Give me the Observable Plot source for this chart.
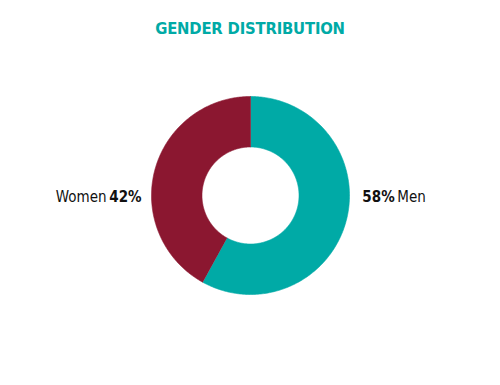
<!DOCTYPE html>
<html><head><meta charset="utf-8">
<script src="https://cdn.jsdelivr.net/npm/d3@7"></script>
<script src="https://cdn.jsdelivr.net/npm/@observablehq/plot@0.6"></script>
<style>
html,body{margin:0;padding:0;background:#fff;width:500px;height:385px;overflow:hidden;}
body{font-family:"Liberation Sans Narrow","DejaVu Sans Condensed","Roboto",sans-serif;}
#title{height:50px;box-sizing:border-box;padding-top:19px;text-align:center;color:#00aaa6;font-weight:bold;font-size:16.5px;line-height:20px;letter-spacing:-0.2px;}
</style></head>
<body>
<div id="title">GENDER DISTRIBUTION</div>
<div id="chart"></div>
<script>
const categories = ["Men", "Women"];
const shares = [58, 42];
const colors = ["#00aaa6", "#8b1730"];
const pctLabels = ["58%", "42%"];

const inner = 0.49;
const data = categories.map((c, i) => ({gender: c, value: shares[i], pct: pctLabels[i]}));
const pie = d3.pie().sort(null).value(d => d.value)(data);

// build slice outlines from the pie angles
const outline = [];
for (const p of pie) {
  const n = 240;
  for (let k = 0; k <= n; k++) {
    const a = p.startAngle + (p.endAngle - p.startAngle) * k / n;
    outline.push({gender: p.data.gender, x: Math.sin(a), y: Math.cos(a)});
  }
  for (let k = n; k >= 0; k--) {
    const a = p.startAngle + (p.endAngle - p.startAngle) * k / n;
    outline.push({gender: p.data.gender, x: inner * Math.sin(a), y: inner * Math.cos(a)});
  }
}
// labels: right side for slice whose midpoint is on the right
const labels = pie.map(p => {
  const mid = (p.startAngle + p.endAngle) / 2;
  const right = Math.sin(mid) >= 0;
  return {gender: p.data.gender, pct: p.data.pct, side: right ? 1 : -1};
});

const W = 500, H = 335;
const R = 99;
const fontFam = '"Liberation Sans Narrow","DejaVu Sans Condensed",Roboto,sans-serif';
const plot = Plot.plot({
  width: W, height: H,
  margin: 0,
  x: {domain: [-W / 2 / R, W / 2 / R], axis: null},
  y: {domain: [-(H - 145) / R, 145 / R], axis: null},
  color: {domain: categories, range: colors},
  style: {fontFamily: fontFam, background: "#fff"},
  marks: [
    Plot.line(outline, {x: "x", y: "y", z: "gender", fill: "gender", stroke: "gender", strokeWidth: 0.6, curve: "linear"}),
    // percentage (bold)
    Plot.text(labels.filter(d => d.side > 0), {x: d => 1.13 * d.side, y: 0, text: "pct", textAnchor: "start", fontWeight: "bold", fontSize: 15, dy: 2, fill: "#111"}),
    Plot.text(labels.filter(d => d.side > 0), {x: d => 1.13 * d.side, y: 0, text: "gender", textAnchor: "start", dx: 35, dy: 2, fontSize: 15, fill: "#111"}),
    Plot.text(labels.filter(d => d.side < 0), {x: d => 1.1 * d.side, y: 0, text: "pct", textAnchor: "end", fontWeight: "bold", fontSize: 15, dy: 2, fill: "#111"}),
    Plot.text(labels.filter(d => d.side < 0), {x: d => 1.1 * d.side, y: 0, text: "gender", textAnchor: "end", dx: -35, dy: 2, fontSize: 15, fill: "#111"})
  ]
});
document.getElementById("chart").appendChild(plot);
</script>
</body></html>
